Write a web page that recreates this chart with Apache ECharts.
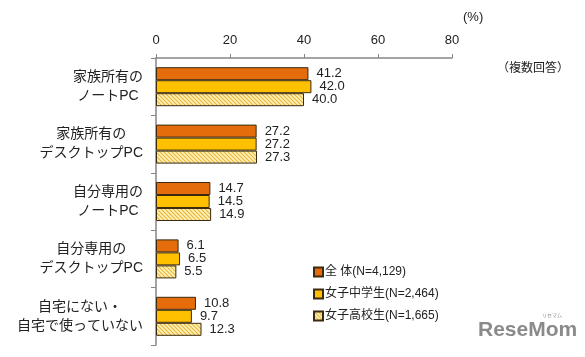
<!DOCTYPE html>
<html><head><meta charset="utf-8">
<script src="https://cdn.jsdelivr.net/npm/echarts@6/dist/echarts.min.js"></script>
<style>html,body{margin:0;padding:0;background:#fff}#c{width:585px;height:357px}</style>
</head><body><div id="c"></div>
<script>
const categories = ["家族所有の\nノートPC", "家族所有の\nデスクトップPC", "自分専用の\nノートPC", "自分専用の\nデスクトップPC", "自宅にない・\n自宅で使っていない"];
const seriesNames = ["全 体(N=4,129)", "女子中学生(N=2,464)", "女子高校生(N=1,665)"];
const allValues = [41.2, 27.2, 14.7, 6.1, 10.8];
const juniorValues = [42.0, 27.2, 14.5, 6.5, 9.7];
const seniorValues = [40.0, 27.3, 14.9, 5.5, 12.3];
const xTicks = [0, 20, 40, 60, 80];

function hatch() {
  const c = document.createElement('canvas');
  c.width = 4; c.height = 4;
  const g = c.getContext('2d');
  g.fillStyle = '#FFF2B8'; g.fillRect(0, 0, 4, 4);
  g.strokeStyle = '#E6B43C'; g.lineWidth = 1.1;
  g.beginPath();
  g.moveTo(-1, -1); g.lineTo(5, 5);
  g.moveTo(-1, 3); g.lineTo(1, 5);
  g.moveTo(3, -1); g.lineTo(5, 1);
  g.stroke();
  return c;
}
const hatchPattern = { image: hatch(), repeat: 'repeat' };

const font = '"Liberation Sans", "Noto Sans CJK JP", sans-serif';
const chart = echarts.init(document.getElementById('c'), null, { renderer: 'canvas' });
const label = { show: true, position: 'right', distance: 8, color: '#222', fontSize: 13, fontFamily: font, formatter: p => p.value.toFixed(1) };
const border = { borderColor: '#3a2a10', borderWidth: 1 };
chart.setOption({
  animation: false,
  grid: { left: 156, top: 58, right: 133, bottom: 12, containLabel: false },
  legend: {
    orient: 'vertical', left: 308, top: 261, itemGap: 10, itemWidth: 9, itemHeight: 9, icon: 'rect',
    textStyle: { fontSize: 12, color: '#222', fontFamily: font, padding: [0, 0, 0, -3] },
    data: seriesNames
  },
  xAxis: {
    type: 'value', position: 'top', min: 0, max: 80, interval: 20,
    axisLine: { show: true, lineStyle: { color: '#868686', width: 1.5 } },
    axisTick: { show: true, length: 4, lineStyle: { color: '#868686' } },
    splitLine: { show: false },
    axisLabel: { fontSize: 13, color: '#222', fontFamily: font, margin: 11,
      formatter: v => xTicks.includes(v) ? String(v) : '' }
  },
  yAxis: {
    type: 'category', inverse: true, data: categories,
    axisLine: { show: true, lineStyle: { color: '#868686', width: 1.5 } },
    axisTick: { show: true, length: 5, lineStyle: { color: '#868686' } },
    axisLabel: { margin: 13, align: 'right', fontFamily: font,
      formatter: v => v.split('\n').map(s => '{c|' + s + '}').join('\n'),
      rich: { c: { align: 'center', fontSize: 14, lineHeight: 19, color: '#222', fontFamily: font } } }
  },
  series: [
    { name: seriesNames[0], type: 'bar', data: allValues, barWidth: 13, barGap: '0%',
      itemStyle: Object.assign({ color: '#E46C0A' }, border), label },
    { name: seriesNames[1], type: 'bar', data: juniorValues, barWidth: 13, barGap: '0%',
      itemStyle: Object.assign({ color: '#FFC000' }, border), label },
    { name: seriesNames[2], type: 'bar', data: seniorValues, barWidth: 13, barGap: '0%',
      itemStyle: Object.assign({ color: hatchPattern }, border), label }
  ],
  graphic: [
    { type: 'text', left: 463, top: 11, style: { text: '(%)', fontSize: 13, fill: '#222', fontFamily: font } },
    { type: 'text', left: 497, top: 63, style: { text: '（複数回答）', fontSize: 12, fill: '#222', fontFamily: font } },
    { type: 'text', left: 478, top: 320, style: { text: 'ReseMom', fontSize: 21, fontWeight: 'bold', fill: '#8a8a8a', fontFamily: '"Liberation Sans", sans-serif' } },
    { type: 'text', left: 542, top: 313, style: { text: 'リセマム', fontSize: 5, fill: '#8a8a8a', fontFamily: '"Noto Sans CJK JP", sans-serif' } }
  ]
});
</script></body></html>
